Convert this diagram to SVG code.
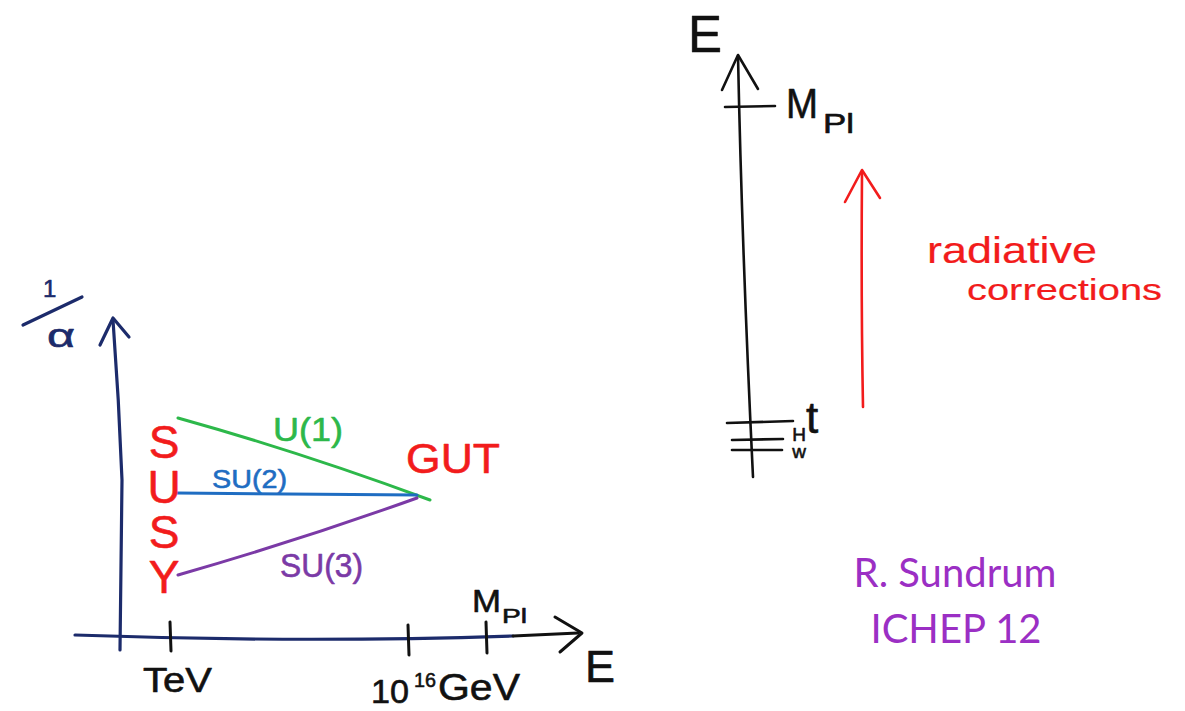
<svg xmlns="http://www.w3.org/2000/svg" width="1185" height="711" viewBox="0 0 1185 711">
<style>
.ln{fill:none;stroke-linecap:round;stroke-linejoin:round}
.nv{stroke:#1c2b6b;stroke-width:3.2}
.bk{stroke:#111;stroke-width:3}
.hw{font-family:"Liberation Sans",Arial,sans-serif;stroke-width:0.6;stroke-linejoin:round}
.red{fill:#f21c1c;stroke:#f21c1c}
.navy{fill:#1c2b6b;stroke:#1c2b6b}
.blk{fill:#111;stroke:#111}
.thin{stroke-width:0.2}
.vert{writing-mode:vertical-rl;text-orientation:upright}
</style>
<rect width="1185" height="711" fill="#fff"/>
<g id="left-plot">
  <g id="axes">
    <path class="ln nv" d="M113,320 Q119,400 122,480 L120,650"/>
    <path class="ln nv" d="M100,345 L113,318 L129,337"/>
    <path class="ln nv" d="M23,325 L82,297"/>
    <path class="ln nv" d="M75,635 Q300,643 513,636"/>
    <path class="ln bk" d="M513,636 L578,633"/>
    <path class="ln bk" d="M555,617 L582,633 L560,652"/>
    <path class="ln bk" d="M170,622 L171,651"/>
    <path class="ln bk" d="M408,625 L409,655"/>
    <path class="ln bk" d="M486,622 L487,653"/>
  </g>
  <g id="axis-labels">
    <text class="hw navy" x="43" y="297" font-size="24">1</text>
    <text class="hw navy" x="47" y="347" font-size="34" textLength="28" lengthAdjust="spacingAndGlyphs">α</text>
    <text class="hw blk" x="143" y="692" font-size="35" textLength="69" lengthAdjust="spacingAndGlyphs">TeV</text>
    <text class="hw blk" x="371" y="703" font-size="33" textLength="38" lengthAdjust="spacingAndGlyphs">10</text>
    <text class="hw blk" x="414" y="687" font-size="21" textLength="22" lengthAdjust="spacingAndGlyphs">16</text>
    <text class="hw blk" x="438" y="700" font-size="36" textLength="82" lengthAdjust="spacingAndGlyphs">GeV</text>
    <text class="hw blk" x="472" y="612" font-size="31" textLength="29" lengthAdjust="spacingAndGlyphs">M</text>
    <text class="hw blk" x="502" y="623" font-size="21" textLength="25" lengthAdjust="spacingAndGlyphs">Pl</text>
    <text class="hw blk" x="585" y="682" font-size="45">E</text>
  </g>
  <g id="couplings">
    <path class="ln" stroke="#2db84a" stroke-width="3" d="M178,418 Q300,452 430,500"/>
    <path class="ln" stroke="#1f6dc2" stroke-width="3" d="M177,493 L417,495"/>
    <path class="ln" stroke="#7b3aa6" stroke-width="3" d="M178,575 Q300,540 417,498"/>
    <text class="hw" fill="#2db84a" stroke="#2db84a" x="273" y="441" font-size="34" textLength="70" lengthAdjust="spacingAndGlyphs">U(1)</text>
    <text class="hw" fill="#1f6dc2" stroke="#1f6dc2" x="212" y="488" font-size="26" textLength="75" lengthAdjust="spacingAndGlyphs">SU(2)</text>
    <text class="hw" fill="#7b3aa6" stroke="#7b3aa6" x="280" y="577" font-size="33" textLength="83" lengthAdjust="spacingAndGlyphs">SU(3)</text>
  </g>
  <g id="susy">
    <text class="hw red vert" x="164" y="416" font-size="46" letter-spacing="-7">SUSY</text>
  </g>
  <g id="gut">
    <text class="hw red" x="406" y="473" font-size="43" textLength="94" lengthAdjust="spacingAndGlyphs">GUT</text>
  </g>
</g>
<g id="right-plot">
  <g id="energy-axis">
    <path class="ln" stroke="#111" stroke-width="2.6" d="M738,56 Q742,250 753,477"/>
    <path class="ln" stroke="#111" stroke-width="2.6" d="M722,90 L738,55 L758,89"/>
    <path class="ln" stroke="#111" stroke-width="2.6" d="M725,107 L775,106"/>
    <path class="ln" stroke="#111" stroke-width="2.6" d="M727,423 L793,421"/>
    <path class="ln" stroke="#111" stroke-width="2.6" d="M732,440 L783,439"/>
    <path class="ln" stroke="#111" stroke-width="2.6" d="M732,450 L782,450"/>
    <text class="hw blk" x="688" y="52" font-size="51">E</text>
    <text class="hw blk" x="786" y="118" font-size="42" textLength="32" lengthAdjust="spacingAndGlyphs">M</text>
    <text class="hw blk" x="823" y="133" font-size="27" textLength="31" lengthAdjust="spacingAndGlyphs">Pl</text>
    <text class="hw blk" x="806" y="433" font-size="44">t</text>
    <text class="hw blk vert" x="799" y="424" font-size="19" letter-spacing="-4">Hw</text>
  </g>
  <g id="radiative-corrections">
    <path class="ln" stroke="#f21c1c" stroke-width="2.6" d="M863,407 Q861,300 862,172"/>
    <path class="ln" stroke="#f21c1c" stroke-width="2.6" d="M845,202 L862,170 L880,198"/>
    <text class="hw red thin" x="927" y="263" font-size="36" textLength="170" lengthAdjust="spacingAndGlyphs">radiative</text>
    <text class="hw red thin" x="967" y="300" font-size="30" textLength="195" lengthAdjust="spacingAndGlyphs">corrections</text>
  </g>
</g>
<g id="credit" font-family="Lato,'Open Sans',sans-serif" fill="#9b2fc4" font-size="40" text-anchor="middle">
  <text x="955" y="587">R. Sundrum</text>
  <text x="956" y="643">ICHEP 12</text>
</g>
</svg>
